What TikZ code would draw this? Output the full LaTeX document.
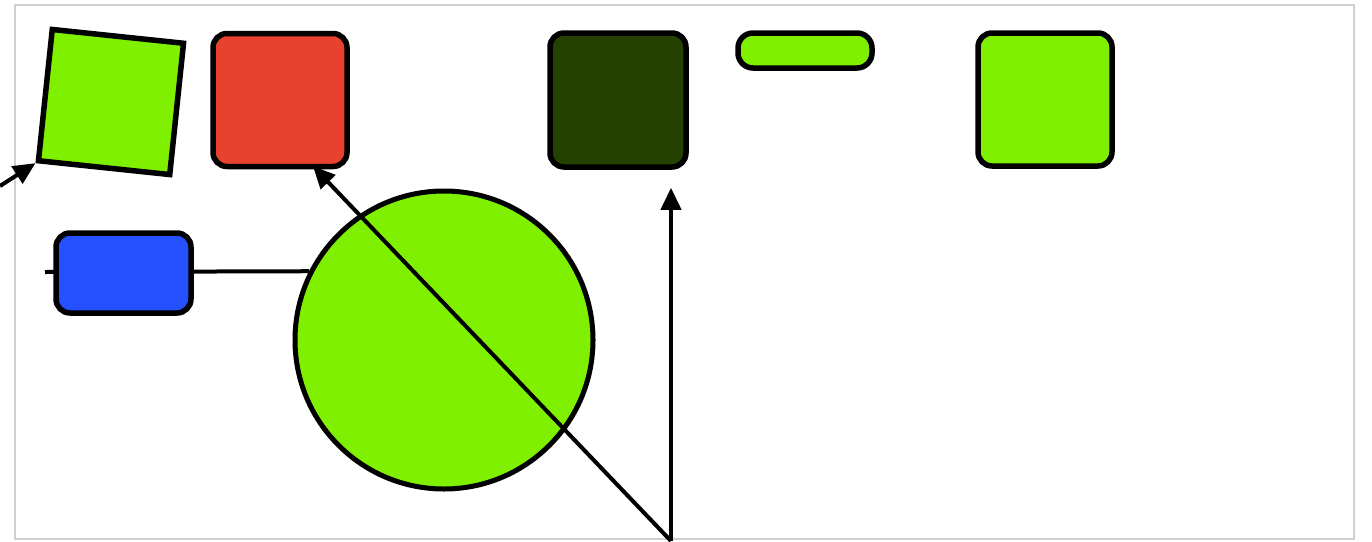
\documentclass[tikz,border=0pt]{standalone}
\usetikzlibrary{arrows.meta,calc}
\definecolor{lgreen}{HTML}{7FF000}
\definecolor{myred}{HTML}{E8422F}
\definecolor{dgreen}{HTML}{264200}
\definecolor{myblue}{HTML}{2450FF}
\definecolor{framegray}{HTML}{D0D0D0}
\tikzset{
  box/.style={draw=black, line width=5.5pt, rounded corners=14pt, inner sep=0pt},
  conn/.style={draw=black, line width=4pt},
  arr/.style={conn, -{Triangle[length=22pt,width=20pt]}}
}
\begin{document}
\begin{tikzpicture}[x=1pt,y=-1pt]
\useasboundingbox (0,0) rectangle (1372,541);
\draw[framegray, line width=2pt] (15,5) rectangle (1354,539);
% shapes
\node[draw=black, line width=5.5pt, fill=lgreen, minimum width=132pt, minimum height=132pt, inner sep=0pt, rotate=-6] (sq) at (111,102) {};
\node[box, fill=myred, minimum width=134pt, minimum height=133pt] (red) at (280,100) {};
\node[box, fill=dgreen, minimum width=136pt, minimum height=134pt] (dark) at (618,100) {};
\node[box, fill=lgreen, minimum width=134pt, minimum height=35pt, rounded corners=15pt] (pill) at (805,50.5) {};
\node[box, fill=lgreen, minimum width=134pt, minimum height=133pt] (g2) at (1045,99.5) {};
\node[draw=black, line width=5pt, fill=lgreen, circle, minimum size=298pt, inner sep=0pt] (circ) at (444,340) {};
\coordinate (lend) at (45,272);
\draw[conn] (lend) -- (circ.153);
\node[box, fill=myblue, minimum width=135pt, minimum height=80pt] (blue) at (123.5,273) {};
% arrows
\coordinate (src) at (671,541);
\coordinate (lsrc) at (0,186);
\draw[arr] (src) -- ($(red.south)+(33,-3)$);
\draw[arr] (src) -- ($(dark.south)+(53,18)$);
\draw[arr] (lsrc) -- (sq.south west);
\end{tikzpicture}
\end{document}
